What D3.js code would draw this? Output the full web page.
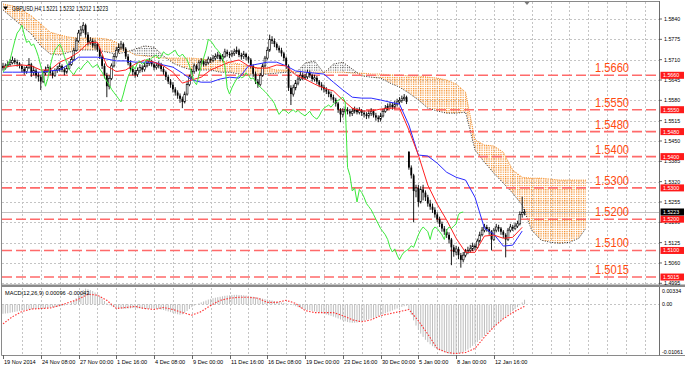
<!DOCTYPE html>
<html><head><meta charset="utf-8">
<script src="https://cdn.jsdelivr.net/npm/d3@7"></script>
<style>
body{margin:0;background:#fff;}
svg{display:block;font-family:"Liberation Sans",Arial,sans-serif;}
</style></head><body>
<svg id="chart" width="685" height="369"></svg>
<script>
// prices are kept in pips above 1.5000 (683 -> 1.5683)
var opens=[690,683,690,695,700,708,702,698,690,680,672,685,695,668,675,660,655,640,668,675,
685,668,660,675,680,690,678,670,682,695,710,740,770,795,805,820,790,765,770,755,
760,742,720,690,660,625,650,690,720,740,750,760,745,720,700,680,670,662,675,685,
678,690,698,705,695,685,690,695,680,670,655,640,630,615,605,595,585,575,600,630,
655,672,690,680,700,705,695,700,712,708,715,720,725,712,720,735,728,725,730,735,
740,725,720,728,718,710,690,665,640,630,660,690,715,740,775,770,760,748,740,730,
715,690,620,600,620,635,648,660,652,655,668,660,648,652,640,630,622,615,608,600,
590,582,570,550,535,545,550,545,538,545,550,542,548,540,535,530,538,545,532,525,
520,530,545,555,560,565,558,568,575,580,585,590,415,365,340,290,300,255,295,285,
270,250,240,230,215,200,185,170,160,150,135,110,95,105,85,70,85,95,100,105,
115,110,130,150,165,175,168,160,135,165,175,170,160,150,135,165,175,170,178,185,
215,221];
var closes=[683,690,695,700,708,702,698,690,680,672,685,695,668,675,660,655,640,668,675,685,
668,660,675,680,690,678,670,682,695,710,740,770,795,805,820,790,765,770,755,760,
742,720,690,660,625,650,690,720,740,750,760,745,720,700,680,670,662,675,685,678,
690,698,705,695,685,690,695,680,670,655,640,630,615,605,595,585,575,600,630,655,
672,690,680,700,705,695,700,712,708,715,720,725,712,720,735,728,725,730,735,740,
725,720,728,718,710,690,665,640,630,660,690,715,740,775,770,760,748,740,730,715,
690,620,600,620,635,648,660,652,655,668,660,648,652,640,630,622,615,608,600,590,
582,570,550,535,545,550,545,538,545,550,542,548,540,535,530,538,545,532,525,520,
530,545,555,560,565,558,568,575,580,585,590,575,365,340,290,300,255,295,285,270,
250,240,230,215,200,185,170,160,150,135,110,95,105,85,70,85,95,100,105,115,
110,130,150,165,175,168,160,135,165,175,170,160,150,135,165,175,170,178,185,215,
221,223];
var highs=[700,698,705,712,720,715,710,702,695,688,692,715,700,690,682,670,662,675,688,695,
690,675,682,690,700,695,685,690,705,720,748,780,805,818,830,825,798,782,778,772,
765,748,725,698,668,660,698,728,750,762,770,765,750,728,708,688,678,685,695,692,
700,708,715,710,700,700,705,700,688,675,662,648,638,622,612,602,592,608,638,662,
680,698,695,708,715,710,710,720,718,725,730,735,730,728,745,742,735,740,745,752,
745,732,738,732,722,715,695,672,648,668,698,722,750,790,785,778,765,755,748,735,
720,695,628,630,645,658,670,668,665,678,675,665,662,658,645,638,630,622,615,608,
598,588,575,555,555,560,558,552,555,560,556,558,552,548,542,548,555,550,540,532,
540,552,565,570,575,572,578,585,590,595,600,595,418,372,345,310,310,305,310,292,
278,262,250,238,222,208,192,178,168,158,140,118,115,112,92,95,105,112,118,125,
122,138,160,175,185,182,175,165,172,185,182,175,165,155,172,185,182,188,195,225,
272,232];
var lows=[675,678,685,690,695,695,688,682,670,662,665,680,655,660,650,640,613,635,660,668,
660,650,655,668,672,670,660,665,678,690,705,735,765,785,795,780,755,758,748,745,
735,712,680,650,590,615,645,685,715,732,742,738,712,692,672,660,652,655,668,670,
672,685,690,688,676,678,682,672,662,645,632,620,605,595,585,572,555,570,595,625,
648,665,672,675,692,688,690,695,700,702,708,712,705,705,715,720,715,718,722,728,
718,710,712,708,700,682,655,632,620,625,655,685,710,735,760,750,740,732,720,705,
680,610,565,592,612,628,642,645,645,648,652,640,640,632,622,612,605,600,590,582,
572,560,540,510,525,538,535,528,530,538,535,535,530,525,520,522,530,525,515,510,
512,525,540,548,552,550,552,560,568,572,578,568,358,330,190,270,240,250,260,258,
240,230,220,205,190,175,160,150,140,122,53,80,85,72,45,62,78,88,92,98,
100,105,125,145,158,160,150,100,130,158,160,150,140,78,130,158,162,165,172,180,
205,212];

// Ichimoku lines, one value every 4 bars from bar 0
var tenkan=[686,690,693,690,677,677,702,715,734,763,766,690,672,677,696,709,702,690,670,635,
645,654,677,690,702,709,690,683,683,693,690,661,648,632,619,610,581,555,546,546,
552,555,555,485,405,309,248,197,139,94,94,146,149,139,142,174];
var kijun=[670,670,670,670,670,674,677,696,718,718,718,712,706,706,702,702,702,693,686,667,
645,638,638,648,654,651,690,696,702,702,690,674,670,667,664,638,613,590,587,587,
581,574,568,501,405,402,379,350,334,325,270,171,152,114,117,162];
// cloud, one value every 4 bars from bar 0 to 244, then bar 247
var spanA=[869,843,818,792,754,728,725,734,741,741,741,734,728,734,744,754,750,722,699,686,
677,677,677,670,670,664,661,661,664,667,670,667,699,706,667,696,702,680,658,654,
651,635,622,603,581,555,546,539,539,542,421,382,347,315,283,245,165,133,126,123,
126,139,171];
var spanB=[888,882,869,850,824,798,789,782,779,779,779,776,766,741,725,722,718,715,715,715,
715,712,709,706,702,696,690,683,683,677,677,670,670,670,670,670,670,667,667,664,
664,661,661,658,658,654,651,645,632,606,453,437,434,414,357,334,331,331,328,325,
325,325,325];
var chikouShift=26;

// MACD(12,26,9) main line per bar and signal every 4 bars, in 1e-5 units
var macd=[-200,-195,-190,-180,-170,-160,-150,-140,-130,-120,-115,-110,
-105,-100,-95,-90,-100,-95,-85,-75,-70,-65,-60,-55,
-45,-35,-25,-10,10,
40,80,130,190,250,300,334,320,300,280,250,
210,170,120,70,20,-20,
-40,-60,-70,-80,-90,-95,-95,-90,-85,-80,-80,-85,-90,
-95,-100,-100,-95,-90,-90,-95,-100,-110,-120,-135,-150,-165,-180,-195,-210,-220,
-210,-180,-140,-100,-60,-30,-5,20,
40,60,80,100,115,130,140,150,160,170,180,185,190,195,200,200,198,195,190,185,
180,170,160,150,140,130,120,110,100,90,80,70,60,50,40,30,20,10,0,
-20,-40,-60,-80,-95,-110,-120,-130,-140,-150,-160,-170,-185,-200,-215,-230,-245,-260,-280,-300,-320,-340,-360,
-375,-385,-390,-390,-385,-375,
-360,-345,-330,-315,-300,-285,-270,-250,-230,-210,-190,-170,-150,-130,-110,-90,-70,
-55,-40,-30,-120,
-220,-340,-450,-540,-620,-690,-750,-800,-845,-885,-920,-950,-975,
-995,-1010,-1025,-1040,-1055,-1061,-1055,-1045,-1030,-1010,-985,-955,-920,
-880,-840,-800,-755,-710,-665,-620,-575,-530,-485,-440,-395,-350,-305,-262,-220,-180,-140,-100,-60,-20,40,96];
var signal=[-413,-262,-154,-100,-89,-78,-24,41,106,214,192,84,-89,-67,-45,-89,-110,-67,-110,-175,
-229,-154,-24,84,128,149,149,128,41,41,84,19,-132,-175,-175,-175,-240,-327,-370,-327,
-240,-197,-154,-110,-348,-629,-932,-1019,-1040,-1019,-932,-694,-478,-305,-175,-67];
var signalLast=-43;

var priceTicks=[1.5840,1.5775,1.5710,1.5645,1.5580,1.5515,1.5450,1.5385,1.5320,1.5255,1.5190,1.5125,1.5060,1.4995];
var levels=[1.5660,1.5550,1.5480,1.5400,1.5300,1.5200,1.5100,1.5015];
var dateLabels=["19 Nov 2014","24 Nov 08:00","27 Nov 00:00","1 Dec 16:00","4 Dec 08:00","9 Dec 00:00","11 Dec 16:00",
"16 Dec 08:00","19 Dec 00:00","23 Dec 16:00","30 Dec 00:00","5 Jan 00:00","8 Jan 00:00","12 Jan 16:00"];
var macdLabels=[{v:0.00334,t:"0.00334"},{v:0,t:"0.00"},{v:-0.01061,t:"-0.01061"}];
var lastPrice=1.5223;
var title="GBPUSD,H4  1.5221 1.5232 1.5212 1.5223";
var macdTitle="MACD(12,26,9) 0.00096 -0.00043";

var P=function(v){return 1.5+v/10000;};
var step=2.36, sample=4, dateEvery=16, gridEvery=8, nBars=279;
var x=d3.scaleLinear().domain([0,nBars-1]).range([3,3+(nBars-1)*step]);
var y=d3.scaleLinear().domain([1.4995,1.5840]).range([283.3,19]);
var my=d3.scaleLinear().domain([-0.01061,0.00334]).range([354.5,288.5]);
var L=659.5, T=1.5;

var svg=d3.select("#chart");
var defs=svg.append("defs");
defs.append("clipPath").attr("id","mainClip").append("rect").attr("x",2).attr("y",2).attr("width",657).attr("height",282);
defs.append("clipPath").attr("id","macdClip").append("rect").attr("x",2).attr("y",288).attr("width",657).attr("height",67);
function dots(id,col,h,sz){
  var p=defs.append("pattern").attr("id",id).attr("patternUnits","userSpaceOnUse")
    .attr("x",x(0)-0.6).attr("y",0).attr("width",step).attr("height",h);
  p.append("rect").attr("width",sz).attr("height",sz).attr("fill",col);
}
dots("orangeDots","#f58a1f",2.2,1.2);
dots("greyDots","#444",2.4,1);

var lastK=spanA.length-1;
var cloud=spanA.map(function(a,k){return {b:k<lastK?k*sample:247,a:a,s:spanB[k]};});
defs.append("clipPath").attr("id","aboveA").append("path")
  .attr("d",d3.area().x(function(d){return x(d.b);}).y0(0).y1(function(d){return y(P(d.a));})(cloud));
defs.append("clipPath").attr("id","belowA").append("path")
  .attr("d",d3.area().x(function(d){return x(d.b);}).y0(function(d){return y(P(d.a));}).y1(300)(cloud));

// grid
var grid=svg.append("g").attr("stroke","#c4c4c4").attr("stroke-dasharray","2,2").attr("stroke-width",1);
d3.range(gridEvery,nBars,gridEvery).forEach(function(b){
  var gx=Math.round(x(b))+0.5;
  grid.append("line").attr("x1",gx).attr("x2",gx).attr("y1",2).attr("y2",284);
  grid.append("line").attr("x1",gx).attr("x2",gx).attr("y1",288).attr("y2",355);
});
priceTicks.forEach(function(p){
  var gy=Math.round(y(p))+0.5;
  grid.append("line").attr("x1",2).attr("x2",659).attr("y1",gy).attr("y2",gy);
});
grid.append("line").attr("x1",2).attr("x2",659).attr("y1",Math.round(my(0))+0.5).attr("y2",Math.round(my(0))+0.5);

var main=svg.append("g").attr("clip-path","url(#mainClip)");

// cloud hatch
var areaAB=d3.area().x(function(d){return x(d.b);}).y0(function(d){return y(P(d.a));}).y1(function(d){return y(P(d.s));});
main.append("g").attr("clip-path","url(#aboveA)").append("path").attr("d",areaAB(cloud)).attr("fill","url(#orangeDots)");
main.append("g").attr("clip-path","url(#belowA)").append("path").attr("d",areaAB(cloud)).attr("fill","url(#greyDots)");
main.append("path").attr("d",d3.line().x(function(d){return x(d.b);}).y(function(d){return y(P(d.s));})(cloud))
  .attr("fill","none").attr("stroke","#f58a1f").attr("stroke-dasharray","1,1.2");
main.append("path").attr("d",d3.line().x(function(d){return x(d.b);}).y(function(d){return y(P(d.a));})(cloud))
  .attr("fill","none").attr("stroke","#333").attr("stroke-dasharray","1,1.5");

// current price line
main.append("line").attr("x1",2).attr("x2",659).attr("y1",Math.round(y(lastPrice))+0.5).attr("y2",Math.round(y(lastPrice))+0.5)
  .attr("stroke","#c0c0c0");

// level lines
levels.forEach(function(p){
  main.append("line").attr("x1",2).attr("x2",659).attr("y1",y(p)).attr("y2",y(p))
    .attr("stroke","#ff6a6a").attr("stroke-width",1.6).attr("stroke-dasharray","10,4");
});

// candles
var cg=main.append("g");
closes.forEach(function(c,i){
  var cx=x(i), o=opens[i];
  cg.append("line").attr("x1",cx).attr("x2",cx).attr("y1",y(P(highs[i]))).attr("y2",y(P(lows[i])))
    .attr("stroke","#000").attr("stroke-width",0.9);
  var top=y(P(Math.max(o,c))), bot=y(P(Math.min(o,c)));
  cg.append("rect").attr("x",cx-0.9).attr("width",1.8).attr("y",top).attr("height",Math.max(0.8,bot-top))
    .attr("fill",c>=o?"#fff":"#000").attr("stroke","#000").attr("stroke-width",c>=o?0.6:0);
});

// ichimoku lines
function poly(vals,col){
  main.append("path").attr("d",d3.line().x(function(d,k){return x(k*sample);}).y(function(d){return y(P(d));})(vals))
    .attr("fill","none").attr("stroke",col).attr("stroke-width",1);
}
poly(kijun,"#2a2aff");
poly(tenkan,"#ff2020");
main.append("path").attr("d",d3.line().x(function(d,k){return x(k);}).y(function(d){return y(P(d));})(closes.slice(chikouShift)))
  .attr("fill","none").attr("stroke","#3be83b").attr("stroke-width",1);

// MACD panel
var mg=svg.append("g").attr("clip-path","url(#macdClip)");
macd.forEach(function(v,i){
  mg.append("line").attr("x1",x(i)).attr("x2",x(i)).attr("y1",my(0)).attr("y2",my(v/100000))
    .attr("stroke","#bdbdbd").attr("stroke-width",1);
});
var sig=signal.map(function(v,k){return [k*sample,v];}).concat([[macd.length-1,signalLast]]);
mg.append("path").attr("d",d3.line().x(function(d){return x(d[0]);}).y(function(d){return my(d[1]/100000);})(sig))
  .attr("fill","none").attr("stroke","#ff3030").attr("stroke-width",1.1).attr("stroke-dasharray","1.5,1.5");

// frames
var fr=svg.append("g").attr("fill","none").attr("stroke","#8a8a8a");
fr.append("line").attr("x1",1.5).attr("x2",1.5).attr("y1",1.5).attr("y2",355.5);
fr.append("line").attr("x1",1.5).attr("x2",L).attr("y1",T).attr("y2",T);
fr.append("line").attr("x1",L).attr("x2",L).attr("y1",1).attr("y2",356).attr("stroke","#6e6e6e");
svg.append("rect").attr("x",1).attr("y",284.5).attr("width",659).attr("height",2.5).attr("fill","#8a8a8a");
fr.append("line").attr("x1",1.5).attr("x2",L).attr("y1",355.5).attr("y2",355.5);
svg.append("rect").attr("x",660).attr("y",284.5).attr("width",25).attr("height",2.5).attr("fill","#8a8a8a");
svg.append("rect").attr("x",660).attr("y",355).attr("width",25).attr("height",1).attr("fill","#8a8a8a");

// price axis
var ax=svg.append("g").attr("font-size",5.3).attr("fill","#000");
priceTicks.forEach(function(p){
  var ty=y(p);
  svg.append("line").attr("x1",L).attr("x2",662).attr("y1",ty).attr("y2",ty).attr("stroke","#000").attr("stroke-width",0.6);
  ax.append("text").attr("x",664).attr("y",ty+2).text(d3.format(".4f")(p));
});
macdLabels.forEach(function(m){
  var ty=m.v===0?my(0)+2:(m.v>0?my(m.v)+4:my(m.v)-0.5);
  ax.append("text").attr("x",662).attr("y",ty).text(m.t);
});
function tag(p,bg){
  var ty=y(p);
  svg.append("rect").attr("x",660.5).attr("y",ty-3.5).attr("width",23.5).attr("height",7).attr("fill",bg);
  svg.append("text").attr("x",663).attr("y",ty+1.9).attr("font-size",5.3).attr("fill","#fff").text(d3.format(".4f")(p));
}
levels.forEach(function(p){tag(p,"#ff1a1a");});
tag(lastPrice,"#000");

// level captions
levels.forEach(function(p){
  svg.append("text").attr("x",595).attr("y",y(p)-3).attr("font-size",12.5).attr("fill","#ff4a10")
    .attr("textLength",34).attr("lengthAdjust","spacingAndGlyphs").text(d3.format(".4f")(p));
});

// time axis
dateLabels.forEach(function(t,k){
  var tx=Math.round(x(k*dateEvery))+0.5;
  svg.append("line").attr("x1",tx).attr("x2",tx).attr("y1",355.5).attr("y2",359).attr("stroke","#000").attr("stroke-width",0.6);
  svg.append("text").attr("x",tx+0.5).attr("y",364).attr("font-size",5.6).attr("fill","#000").text(t);
});

// titles and markers
svg.append("path").attr("d","M3,6.5L8,6.5L5.5,10Z").attr("fill","#000");
svg.append("text").attr("x",12).attr("y",11).attr("font-size",6.6).attr("fill","#000")
  .attr("textLength",96).attr("lengthAdjust","spacingAndGlyphs").text(title);
svg.append("path").attr("d","M524.5,2L529.5,2L527,5Z").attr("fill","#777");
svg.append("text").attr("x",5).attr("y",295).attr("font-size",5.6).attr("fill","#000").text(macdTitle);
</script>
</body></html>
